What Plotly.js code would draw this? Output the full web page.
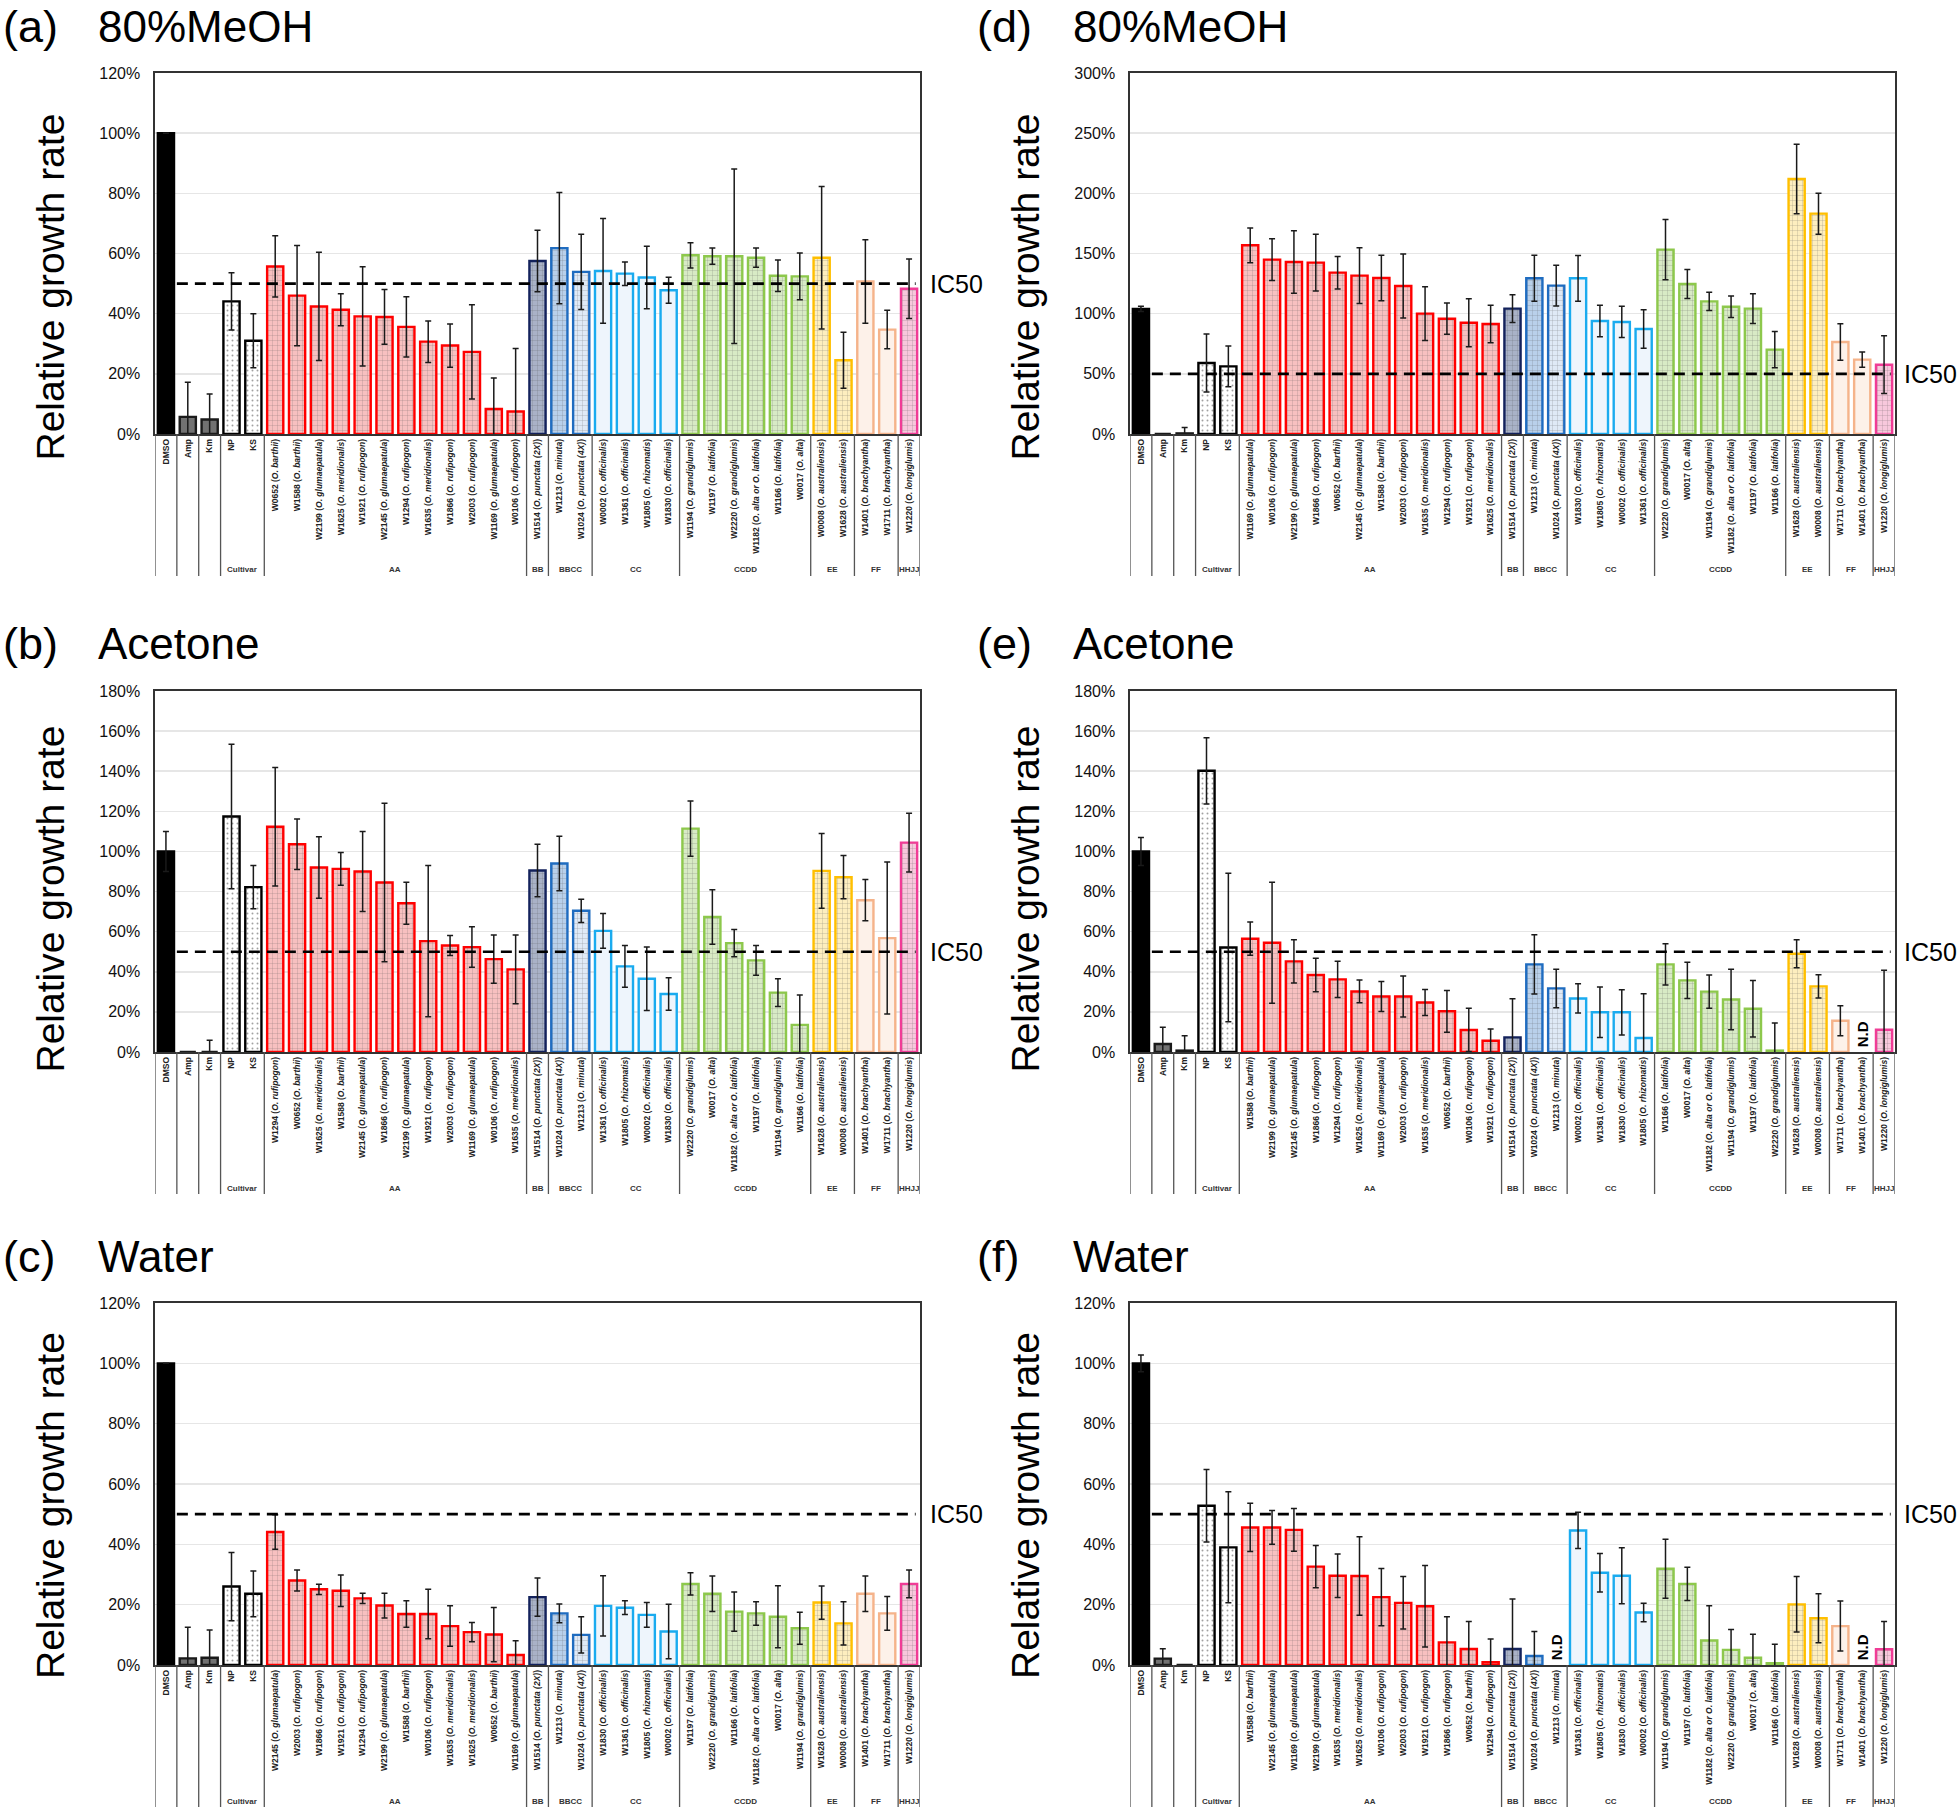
<!DOCTYPE html>
<html>
<head>
<meta charset="utf-8">
<script src="https://cdn.plot.ly/plotly-3.0.1.min.js"></script>
<style>html,body{margin:0;padding:0;background:#fff;}#chart{width:1960px;height:1808px;}</style>
</head>
<body>
<div id="chart"></div>
<script>
// ---------- shared structure ----------
const groupTitles = ['', '', '', 'Cultivar', 'AA', 'BB', 'BBCC', 'CC', 'CCDD', 'EE', 'FF', 'HHJJ'];
const groupKeys   = ['DMSO', 'Amp', 'Km', 'Cultivar', 'AA', 'BB', 'BBCC', 'CC', 'CCDD', 'EE', 'FF', 'HHJJ'];
const groupSizes  = [1, 1, 1, 2, 12, 1, 2, 4, 6, 2, 2, 1];

// ---------- (a) 80%MeOH ----------
const labelsA = ['DMSO','Amp','Km','NP','KS',
 'W0652 (O. barthii)','W1588 (O. barthii)','W2199 (O. glumaepatula)','W1625 (O. meridionalis)','W1921 (O. rufipogon)','W2145 (O. glumaepatula)','W1294 (O. rufipogon)','W1635 (O. meridionalis)','W1866 (O. rufipogon)','W2003 (O. rufipogon)','W1169 (O. glumaepatula)','W0106 (O. rufipogon)',
 'W1514 (O. punctata (2X))','W1213 (O. minuta)','W1024 (O. punctata (4X))',
 'W0002 (O. officinalis)','W1361 (O. officinalis)','W1805 (O. rhizomatis)','W1830 (O. officinalis)',
 'W1194 (O. grandiglumis)','W1197 (O. latifolia)','W2220 (O. grandiglumis)','W1182 (O. alta or O. latifolia)','W1166 (O. latifolia)','W0017 (O. alta)',
 'W0008 (O. australiensis)','W1628 (O. australiensis)','W1401 (O. brachyantha)','W1711 (O. brachyantha)','W1220 (O. longiglumis)'];
const valuesA = [100, 5.7, 4.8, 44.1, 31.0, 55.7, 46.0, 42.4, 41.3, 39.1, 38.9, 35.6, 30.7, 29.4, 27.3, 8.3, 7.5, 57.5, 61.8, 53.9, 54.2, 53.3, 52.0, 47.8, 59.4, 59.1, 59.1, 58.6, 52.6, 52.4, 58.6, 24.5, 50.7, 34.7, 48.3];
const errorsA = [null, 11.5, 8.5, 9.5, 9, 10.2, 16.7, 18, 5.3, 16.5, 9.1, 10, 6.9, 7.2, 15.7, 10.3, 20.9, 10.2, 18.5, 12.5, 17.4, 3.9, 10.4, 4.3, 4.2, 2.7, 29, 3.2, 5.2, 7.8, 23.7, 9.3, 13.9, 6.4, 9.9];

// ---------- (d) 80%MeOH ----------
const labelsD = ['DMSO','Amp','Km','NP','KS',
 'W1169 (O. glumaepatula)','W0106 (O. rufipogon)','W2199 (O. glumaepatula)','W1866 (O. rufipogon)','W0652 (O. barthii)','W2145 (O. glumaepatula)','W1588 (O. barthii)','W2003 (O. rufipogon)','W1635 (O. meridionalis)','W1294 (O. rufipogon)','W1921 (O. rufipogon)','W1625 (O. meridionalis)',
 'W1514 (O. punctata (2X))','W1213 (O. minuta)','W1024 (O. punctata (4X))',
 'W1830 (O. officinalis)','W1805 (O. rhizomatis)','W0002 (O. officinalis)','W1361 (O. officinalis)',
 'W2220 (O. grandiglumis)','W0017 (O. alta)','W1194 (O. grandiglumis)','W1182 (O. alta or O. latifolia)','W1197 (O. latifolia)','W1166 (O. latifolia)',
 'W1628 (O. australiensis)','W0008 (O. australiensis)','W1711 (O. brachyantha)','W1401 (O. brachyantha)','W1220 (O. longiglumis)'];
const valuesD = [103.9, 0, 0.5, 59.0, 56.2, 156.8, 144.9, 142.9, 142.4, 134.1, 131.6, 129.6, 123.0, 100.0, 95.8, 92.5, 91.4, 104.2, 129.4, 123.3, 129.4, 93.9, 93.1, 87.3, 153.2, 124.7, 110.2, 105.8, 104.2, 70.1, 211.9, 183.1, 76.5, 61.8, 57.6];
const errorsD = [2.2, null, 5, 24, 17, 14.4, 17.4, 26, 23.5, 13.5, 23.2, 18.9, 26.6, 22.4, 13, 20, 15.5, 11.6, 19.1, 17, 19, 13, 13, 16, 25, 12, 7.5, 8.9, 12.4, 15, 28.8, 17, 15.2, 6.3, 24];

// ---------- (b) Acetone ----------
const labelsB = ['DMSO','Amp','Km','NP','KS',
 'W1294 (O. rufipogon)','W0652 (O. barthii)','W1625 (O. meridionalis)','W1588 (O. barthii)','W2145 (O. glumaepatula)','W1866 (O. rufipogon)','W2199 (O. glumaepatula)','W1921 (O. rufipogon)','W2003 (O. rufipogon)','W1169 (O. glumaepatula)','W0106 (O. rufipogon)','W1635 (O. meridionalis)',
 'W1514 (O. punctata (2X))','W1024 (O. punctata (4X))','W1213 (O. minuta)',
 'W1361 (O. officinalis)','W1805 (O. rhizomatis)','W0002 (O. officinalis)','W1830 (O. officinalis)',
 'W2220 (O. grandiglumis)','W0017 (O. alta)','W1182 (O. alta or O. latifolia)','W1197 (O. latifolia)','W1194 (O. grandiglumis)','W1166 (O. latifolia)',
 'W1628 (O. australiensis)','W0008 (O. australiensis)','W1401 (O. brachyantha)','W1711 (O. brachyantha)','W1220 (O. longiglumis)'];
const valuesB = [100, 0, 0, 117.4, 82.2, 112.3, 103.6, 92.0, 91.3, 90.0, 84.5, 74.2, 55.3, 53.1, 52.3, 46.3, 41.2, 90.5, 94.0, 70.4, 60.4, 42.7, 36.5, 28.9, 111.4, 67.3, 54.3, 45.7, 29.6, 13.5, 90.3, 87.2, 75.7, 56.8, 104.4];
const errorsB = [10, null, 5.8, 36, 10.8, 29.5, 12.6, 15.3, 8.2, 19.9, 39.5, 10.5, 37.7, 5, 10.1, 12, 17.1, 13.1, 13.6, 5.8, 8.7, 10.4, 15.8, 8.1, 13.8, 13.6, 6.8, 7.4, 6.9, 14.9, 18.6, 10.8, 10.3, 37.9, 14.7];

// ---------- (e) Acetone ----------
const labelsE = ['DMSO','Amp','Km','NP','KS',
 'W1588 (O. barthii)','W2199 (O. glumaepatula)','W2145 (O. glumaepatula)','W1866 (O. rufipogon)','W1294 (O. rufipogon)','W1625 (O. meridionalis)','W1169 (O. glumaepatula)','W2003 (O. rufipogon)','W1635 (O. meridionalis)','W0652 (O. barthii)','W0106 (O. rufipogon)','W1921 (O. rufipogon)',
 'W1514 (O. punctata (2X))','W1024 (O. punctata (4X))','W1213 (O. minuta)',
 'W0002 (O. officinalis)','W1361 (O. officinalis)','W1830 (O. officinalis)','W1805 (O. rhizomatis)',
 'W1166 (O. latifolia)','W0017 (O. alta)','W1182 (O. alta or O. latifolia)','W1194 (O. grandiglumis)','W1197 (O. latifolia)','W2220 (O. grandiglumis)',
 'W1628 (O. australiensis)','W0008 (O. australiensis)','W1711 (O. brachyantha)','W1401 (O. brachyantha)','W1220 (O. longiglumis)'];
const valuesE = [100, 4.0, 0.7, 140.2, 52.1, 56.5, 54.5, 45.2, 38.4, 36.2, 30.2, 27.7, 27.7, 24.7, 20.3, 11.0, 5.6, 7.3, 43.7, 31.7, 26.7, 19.8, 19.8, 7.0, 43.7, 35.7, 30.1, 26.2, 21.6, 0.7, 49.0, 32.7, 15.6, null, 11.1];
const errorsE = [7, 8.3, 7.4, 16.5, 37, 8.3, 30.2, 10.8, 8.4, 9, 5.7, 7.5, 10.2, 6.5, 10.4, 10.8, 5.9, 19.3, 14.8, 9.6, 7.3, 12.6, 11.3, 22.1, 10.3, 9, 8.3, 15.1, 14.1, 13.7, 7, 5.8, 7.5, null, 29.6];

// ---------- (c) Water ----------
const labelsC = ['DMSO','Amp','Km','NP','KS',
 'W2145 (O. glumaepatula)','W2003 (O. rufipogon)','W1866 (O. rufipogon)','W1921 (O. rufipogon)','W1294 (O. rufipogon)','W2199 (O. glumaepatula)','W1588 (O. barthii)','W0106 (O. rufipogon)','W1635 (O. meridionalis)','W1625 (O. meridionalis)','W0652 (O. barthii)','W1169 (O. glumaepatula)',
 'W1514 (O. punctata (2X))','W1213 (O. minuta)','W1024 (O. punctata (4X))',
 'W1830 (O. officinalis)','W1361 (O. officinalis)','W1805 (O. rhizomatis)','W0002 (O. officinalis)',
 'W1197 (O. latifolia)','W2220 (O. grandiglumis)','W1166 (O. latifolia)','W1182 (O. alta or O. latifolia)','W0017 (O. alta)','W1194 (O. grandiglumis)',
 'W1628 (O. australiensis)','W0008 (O. australiensis)','W1401 (O. brachyantha)','W1711 (O. brachyantha)','W1220 (O. longiglumis)'];
const valuesC = [100, 2.2, 2.4, 26.0, 23.6, 44.1, 28.0, 25.1, 24.6, 22.1, 19.7, 16.9, 16.9, 12.9, 10.9, 10.1, 3.3, 22.5, 17.1, 10.0, 19.6, 19.0, 16.6, 11.1, 26.9, 23.6, 17.7, 17.1, 16.0, 12.2, 20.7, 13.8, 23.6, 17.1, 26.9];
const errorsC = [null, 10.3, 9.2, 11.3, 7.6, 5.7, 3.5, 1.7, 5.2, 1.7, 4.1, 4.4, 8.2, 6.7, 3.2, 9, 4.7, 6.3, 3.1, 6, 10, 2.3, 4.1, 9, 3.7, 5.9, 6.5, 3.9, 10.3, 5.3, 5.5, 7.2, 5.9, 5.6, 4.6];

// ---------- (f) Water ----------
const labelsF = ['DMSO','Amp','Km','NP','KS',
 'W1588 (O. barthii)','W2145 (O. glumaepatula)','W1169 (O. glumaepatula)','W2199 (O. glumaepatula)','W1635 (O. meridionalis)','W1625 (O. meridionalis)','W0106 (O. rufipogon)','W2003 (O. rufipogon)','W1921 (O. rufipogon)','W1866 (O. rufipogon)','W0652 (O. barthii)','W1294 (O. rufipogon)',
 'W1514 (O. punctata (2X))','W1024 (O. punctata (4X))','W1213 (O. minuta)',
 'W1361 (O. officinalis)','W1805 (O. rhizomatis)','W1830 (O. officinalis)','W0002 (O. officinalis)',
 'W1194 (O. grandiglumis)','W1197 (O. latifolia)','W1182 (O. alta or O. latifolia)','W2220 (O. grandiglumis)','W0017 (O. alta)','W1166 (O. latifolia)',
 'W1628 (O. australiensis)','W0008 (O. australiensis)','W1711 (O. brachyantha)','W1401 (O. brachyantha)','W1220 (O. longiglumis)'];
const valuesF = [100, 2.1, 0, 52.8, 39.0, 45.6, 45.6, 44.8, 32.6, 29.6, 29.5, 22.5, 20.6, 19.5, 7.5, 5.3, 0.9, 5.3, 3.0, null, 44.6, 30.6, 29.6, 17.4, 31.9, 26.9, 8.1, 5.0, 2.4, 0.6, 20.1, 15.5, 12.9, null, 5.2];
const errorsF = [2.8, 3.3, null, 12, 18.4, 8, 5.6, 7.1, 7, 7.2, 13, 9.5, 8.7, 13.5, 8.5, 9.1, 7.7, 16.6, 8.1, null, 6, 6.4, 9.3, 3.1, 9.8, 5.5, 11.5, 6.8, 7.8, 6.3, 9.2, 8.1, 8.3, null, 9.2];

const panelTags    = ['(a)', '(d)', '(b)', '(e)', '(c)', '(f)'];
const panelSolvent = ['80%MeOH', '80%MeOH', 'Acetone', 'Acetone', 'Water', 'Water'];
const panelYMax    = [120, 300, 180, 180, 120, 120];
const panelYStep   = [20, 50, 20, 20, 20, 20];

// ---------- styles ----------
const groupStyle = {
  DMSO:     {line: '#000000', fill: ['#000000'], shape: '', fg: '#000000'},
  Amp:      {line: '#1a1a1a', fill: ['#727272'], shape: '', fg: '#000000'},
  Km:       {line: '#1a1a1a', fill: ['#727272'], shape: '', fg: '#000000'},
  Cultivar: {line: '#000000', fill: ['#ffffff'], shape: '.', fg: '#000000'},
  AA:       {line: '#ff0000', fill: ['#f7c0c0'], shape: '+', fg: '#ffffff'},
  BB:       {line: '#13225c', fill: ['#a9b2c7'], shape: '+', fg: '#ffffff'},
  BBCC:     {line: '#1f6cc0', fill: ['#b9d0ea', '#dfe9f6'], shape: '+', fg: '#ffffff'},
  CC:       {line: '#1aabef', fill: ['#eef5fc'], shape: '', fg: '#ffffff'},
  CCDD:     {line: '#8dc84c', fill: ['#d8eac5'], shape: '+', fg: '#ffffff'},
  EE:       {line: '#ffbf00', fill: ['#fdeebf'], shape: '+', fg: '#ffffff'},
  FF:       {line: '#f5b38a', fill: ['#fdf1e9'], shape: '', fg: '#ffffff'},
  HHJJ:     {line: '#f03c96', fill: ['#f7c8dc'], shape: '+', fg: '#ffffff'}
};

// ---------- geometry (pixels) ----------
const W = 1960, H = 1808;
const colX = [[155, 920], [1130, 1895]];
const rowY = [[73, 434], [691, 1052], [1303, 1665]];
const rowTitleShift = [34, 28, 22];
const tagX = [[1, 96], [975, 1071]];
const ic50X = [928, 1902];
const px = p => p / W;
const py = p => 1 - p / H;

const FONT = 'Liberation Sans, Arial, Helvetica, sans-serif';

function fmtLabel(lab) {
  const i = lab.indexOf('(');
  if (i < 0) return '<b>' + lab + '</b>';
  return '<b>' + lab.slice(0, i) + '(<i>' + lab.slice(i + 1, -1) + '</i>)</b>';
}

const panels = [
  [labelsA, valuesA, errorsA], [labelsD, valuesD, errorsD],
  [labelsB, valuesB, errorsB], [labelsE, valuesE, errorsE],
  [labelsC, valuesC, errorsC], [labelsF, valuesF, errorsF]
];

const traces = [];
const layout = {
  width: W, height: H,
  margin: {l: 0, r: 0, t: 0, b: 0},
  paper_bgcolor: '#ffffff', plot_bgcolor: '#ffffff',
  showlegend: false,
  font: {family: FONT, color: '#000'},
  shapes: [], annotations: [],
  bargap: 0.25
};

// per-bar style arrays from group sizes
const barLine = [], barFill = [], barShape = [], barFg = [];
groupKeys.forEach((g, gi) => {
  const st = groupStyle[g];
  for (let k = 0; k < groupSizes[gi]; k++) {
    barLine.push(st.line);
    barFill.push(st.fill[Math.min(k, st.fill.length - 1)]);
    barShape.push(st.shape);
    barFg.push(st.fg);
  }
});

// boundaries of groups (category index coordinates)
const bounds = [-0.5];
let acc = -0.5;
groupSizes.forEach(s => { acc += s; bounds.push(acc); });

panels.forEach((p, idx) => {
  const [labels, vals, errs] = p;
  const col = idx % 2, row = Math.floor(idx / 2);
  const ax = idx === 0 ? '' : String(idx + 1);
  const xName = 'x' + ax, yName = 'y' + ax;
  const [xl, xr] = colX[col];
  const [yt, yb] = rowY[row];
  const xi = labels.map((_, i) => i);

  traces.push({
    type: 'bar', x: xi, y: vals,
    xaxis: xName, yaxis: yName,
    width: 0.74,
    marker: {
      color: barFill,
      line: {color: barLine, width: 2.4},
      pattern: {shape: barShape, fgcolor: barFg, size: 5, solidity: 0.12, fillmode: 'overlay'}
    },
    error_y: {type: 'data', array: errs, visible: true, color: '#1a1a1a', thickness: 1.5, width: 3},
    hoverinfo: 'skip'
  });

  layout['xaxis' + ax] = {
    domain: [px(xl), px(xr)], anchor: yName,
    range: [-0.5, labels.length - 0.5],
    tickmode: 'array', tickvals: xi, ticktext: labels.map(fmtLabel),
    tickangle: -90, tickfont: {family: FONT, size: 8.5, color: '#222'},
    showline: true, linecolor: '#333', linewidth: 1.6, mirror: true,
    showgrid: false, zeroline: false, ticks: '', fixedrange: true
  };
  layout['yaxis' + ax] = {
    domain: [py(yb), py(yt)], anchor: xName,
    range: [0, panelYMax[idx]], dtick: panelYStep[idx], tick0: 0,
    ticksuffix: '%', tickfont: {family: FONT, size: 16, color: '#111'},
    ticks: 'outside', ticklen: 10, tickcolor: 'rgba(0,0,0,0)',
    showline: true, linecolor: '#333', linewidth: 1.6, mirror: true,
    showgrid: true, gridcolor: '#e6e6e6', gridwidth: 1.5, zeroline: false, fixedrange: true
  };

  // IC50 dashed line
  layout.shapes.push({type: 'line', xref: xName, yref: yName, x0: 0.5, x1: labels.length - 0.7, y0: 50, y1: 50,
    line: {color: '#000', width: 2.6, dash: '11px,7px'}, layer: 'above'});

  // separators below the axis
  bounds.forEach(b => {
    layout.shapes.push({type: 'line', xref: xName, yref: 'paper', x0: b, x1: b,
      y0: py(yb), y1: py(yb + 142), line: {color: '#555', width: 1.3}});
  });
  // group titles
  let start = 0;
  groupSizes.forEach((s, gi) => {
    if (groupTitles[gi]) {
      layout.annotations.push({xref: xName, yref: 'paper', x: start + (s - 1) / 2, y: py(yb + 136),
        text: '<b>' + groupTitles[gi] + '</b>', showarrow: false, font: {family: FONT, size: 8, color: '#333'},
        xanchor: 'center', yanchor: 'middle'});
    }
    start += s;
  });

  // N.D markers
  vals.forEach((v, i) => {
    if (v === null) {
      layout.annotations.push({xref: xName, yref: yName, x: i, y: 0, text: '<b>N.D</b>', textangle: -90,
        showarrow: false, font: {family: FONT, size: 15, color: '#000'}, xanchor: 'center', yanchor: 'bottom', yshift: 3});
    }
  });

  // IC50 label
  const ic50Py = yb - (yb - yt) * 50 / panelYMax[idx];
  layout.annotations.push({xref: 'paper', yref: 'paper', x: px(ic50X[col]), y: py(ic50Py), text: 'IC50',
    showarrow: false, xanchor: 'left', yanchor: 'middle', font: {family: FONT, size: 25, color: '#000'}});

  // y-axis title
  layout.annotations.push({xref: 'paper', yref: 'paper', x: px(xl - 105), y: py((yt + yb) / 2 + rowTitleShift[row]),
    text: 'Relative growth rate', textangle: -90, showarrow: false, xanchor: 'center', yanchor: 'middle',
    font: {family: FONT, size: 39, color: '#000'}});

  // panel tag and solvent title
  layout.annotations.push({xref: 'paper', yref: 'paper', x: px(tagX[col][0]), y: py(yt - 47), text: panelTags[idx],
    showarrow: false, xanchor: 'left', yanchor: 'middle', font: {family: FONT, size: 45, color: '#000'}});
  layout.annotations.push({xref: 'paper', yref: 'paper', x: px(tagX[col][1]), y: py(yt - 47), text: panelSolvent[idx],
    showarrow: false, xanchor: 'left', yanchor: 'middle', font: {family: FONT, size: 44, color: '#000'}});
});

Plotly.newPlot('chart', traces, layout, {staticPlot: true, displayModeBar: false});
</script>
</body>
</html>
